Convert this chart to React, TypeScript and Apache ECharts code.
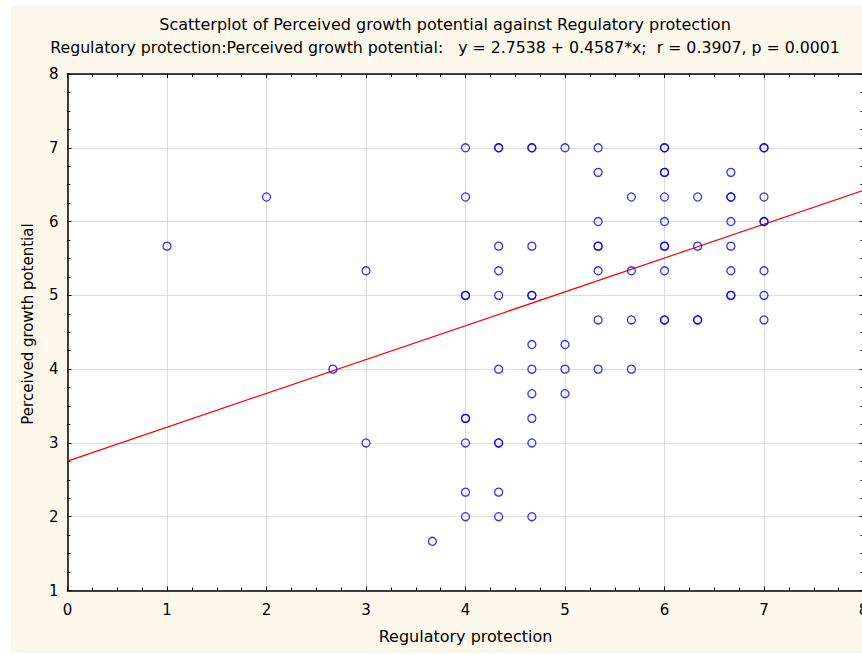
import React, { useEffect, useRef } from "react";
import * as echarts from "echarts";

// Regulatory protection (x) and perceived growth potential (y) per respondent.
// Repeated pairs are listed once per respondent.
const regulatoryProtection: number[] = [
  1, 2, 2.667, 3, 3, 3.667,
  4, 4, 4, 4, 4, 4, 4, 4, 4,
  4.333, 4.333, 4.333, 4.333, 4.333, 4.333, 4.333, 4.333, 4.333, 4.333,
  4.667, 4.667, 4.667, 4.667, 4.667, 4.667, 4.667, 4.667, 4.667, 4.667, 4.667,
  5, 5, 5, 5,
  5.333, 5.333, 5.333, 5.333, 5.333, 5.333, 5.333, 5.333,
  5.667, 5.667, 5.667, 5.667,
  6, 6, 6, 6, 6, 6, 6, 6, 6, 6, 6,
  6.333, 6.333, 6.333, 6.333,
  6.667, 6.667, 6.667, 6.667, 6.667, 6.667, 6.667, 6.667,
  7, 7, 7, 7, 7, 7, 7, 7,
];

const growthPotential: number[] = [
  5.667, 6.333, 4, 5.333, 3, 1.667,
  7, 6.333, 5, 5, 3.333, 3.333, 3, 2.333, 2,
  7, 7, 5.667, 5.333, 5, 4, 3, 3, 2.333, 2,
  7, 7, 5.667, 5, 5, 4.333, 4, 3.667, 3.333, 3, 2,
  7, 4.333, 4, 3.667,
  7, 6.667, 6, 5.667, 5.667, 5.333, 4.667, 4,
  6.333, 5.333, 4.667, 4,
  7, 7, 6.667, 6.667, 6.333, 6, 5.667, 5.667, 5.333, 4.667, 4.667,
  6.333, 5.667, 4.667, 4.667,
  6.667, 6.333, 6.333, 6, 5.667, 5.333, 5, 5,
  7, 7, 6.333, 6, 6, 5.333, 5, 4.667,
];

// Fitted regression: y = intercept + slope * x
const intercept = 2.7538;
const slope = 0.4587;
const fitRange: number[] = [0, 8];

const xTitle = "Regulatory protection";
const yTitle = "Perceived growth potential";
const titleLine1 =
  "Scatterplot of Perceived growth potential against Regulatory protection";
const titleLine2 =
  "Regulatory protection:Perceived growth potential:   y = 2.7538 + 0.4587*x;  r = 0.3907, p = 0.0001";

const FONT = '"DejaVu Sans", "Liberation Sans", Arial, sans-serif';

export default function App() {
  const ref = useRef<HTMLDivElement>(null);

  useEffect(() => {
    if (!ref.current) return;
    const chart = echarts.init(ref.current, null, { renderer: "svg" });

    const points = regulatoryProtection.map((x, i) => [x, growthPotential[i]]);
    const fitLine = fitRange.map((x) => [x, intercept + slope * x]);

    const tickCommon = {
      show: true,
      inside: true,
      length: 4,
      lineStyle: { color: "#000", width: 1 },
    };
    const minorCommon = {
      show: true,
      splitNumber: 4,
      length: 3,
      lineStyle: { color: "#000", width: 1 },
    };
    const lineCommon = { show: true, onZero: false, lineStyle: { color: "#000", width: 1.5 } };

    const textStyle = (text: string, size: number) => ({
      text,
      font: `${size}px ${FONT}`,
      fill: "#000",
      textAlign: "center",
      textVerticalAlign: "middle",
      align: "center",
      verticalAlign: "middle",
    });

    chart.setOption({
      animation: false,
      backgroundColor: "transparent",
      graphic: [
        { type: "text", x: 445, y: 24, style: textStyle(titleLine1, 16) },
        { type: "text", x: 445, y: 47, style: textStyle(titleLine2, 15.75) },
        {
          type: "text",
          x: 28,
          y: 324,
          rotation: Math.PI / 2,
          style: textStyle(yTitle, 15),
        },
      ],
      grid: {
        left: 67.5,
        top: 74,
        width: 796,
        height: 516.5,
        show: true,
        backgroundColor: "#fff",
        borderWidth: 0,
        containLabel: false,
        outerBoundsMode: "none",
      },
      xAxis: [
        {
          type: "value",
          position: "bottom",
          min: 0,
          max: 8,
          interval: 1,
          axisLine: lineCommon,
          axisTick: tickCommon,
          minorTick: minorCommon,
          splitLine: { show: true, lineStyle: { color: "#dedede", width: 1 } },
          axisLabel: {
            show: true,
            margin: 12,
            color: "#000",
            fontFamily: FONT,
            fontSize: 15,
            showMinLabel: true,
            showMaxLabel: true,
            hideOverlap: false,
          },
          name: xTitle,
          nameLocation: "middle",
          nameGap: 38,
          nameTextStyle: { color: "#000", fontFamily: FONT, fontSize: 16 },
        },
        {
          type: "value",
          position: "top",
          min: 0,
          max: 8,
          interval: 1,
          axisLine: lineCommon,
          axisTick: tickCommon,
          minorTick: minorCommon,
          splitLine: { show: false },
          axisLabel: { show: false },
        },
      ],
      yAxis: [
        {
          type: "value",
          position: "left",
          min: 1,
          max: 8,
          interval: 1,
          axisLine: lineCommon,
          axisTick: tickCommon,
          minorTick: minorCommon,
          splitLine: { show: true, lineStyle: { color: "#dedede", width: 1 } },
          axisLabel: {
            show: true,
            margin: 9,
            color: "#000",
            fontFamily: FONT,
            fontSize: 15,
            showMinLabel: true,
            showMaxLabel: true,
          },
        },
        {
          type: "value",
          position: "right",
          min: 1,
          max: 8,
          interval: 1,
          axisLine: lineCommon,
          axisTick: tickCommon,
          minorTick: minorCommon,
          splitLine: { show: false },
          axisLabel: { show: false },
        },
      ],
      series: [
        {
          type: "line",
          data: fitLine,
          xAxisIndex: 0,
          yAxisIndex: 0,
          showSymbol: false,
          symbol: "none",
          lineStyle: { color: "#ff0000", width: 1.2 },
          z: 2,
        },
        {
          type: "scatter",
          data: points,
          xAxisIndex: 0,
          yAxisIndex: 0,
          symbol: "circle",
          symbolSize: 8,
          itemStyle: {
            color: "transparent",
            borderColor: "#0000ff",
            borderWidth: 1.3,
          },
          z: 3,
        },
      ],
    });

    return () => chart.dispose();
  }, []);

  return (
    <div
      style={{
        position: "fixed",
        left: 0,
        top: 0,
        width: 862,
        height: 655,
        background: "#fff",
        overflow: "hidden",
      }}
    >
      <div
        style={{
          position: "absolute",
          left: 11,
          top: 5,
          width: 851,
          height: 648,
          background: "#fdf8ec",
        }}
      />
      <div
        ref={ref}
        style={{ position: "absolute", left: 0, top: 0, width: 862, height: 655 }}
      />
    </div>
  );
}
